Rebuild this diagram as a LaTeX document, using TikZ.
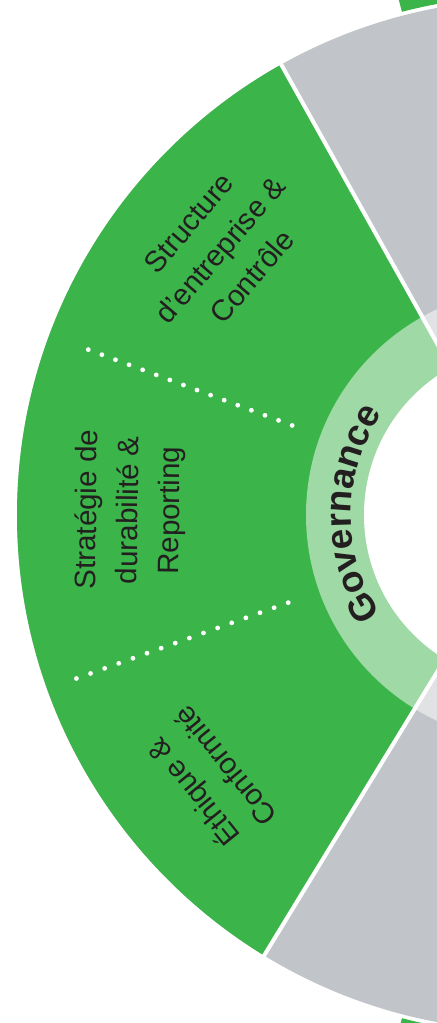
\documentclass[tikz,border=0pt]{standalone}
\usepackage{fontspec}
\setmainfont{Liberation Sans}
\usetikzlibrary{decorations.text}
\definecolor{govgreen}{HTML}{3BB54A}
\definecolor{govlight}{HTML}{9FD9A5}
\definecolor{ringgray}{HTML}{C1C5C9}
\definecolor{ringlight}{HTML}{E1E2E4}
\definecolor{labeltext}{HTML}{231F20}

\begin{document}
\begin{tikzpicture}[x=0.01cm,y=0.01cm,
	pillar/.style={text=labeltext,align=center,font=\fontsize{8.4}{11.8}\selectfont},
	gap/.style={white,line width=1.15pt}]
			\useasboundingbox (0,0) rectangle (437,-1023);
			\coordinate (c) at (533,-515);

			\fill[ringgray] (c) circle[radius=516];
			\fill[ringlight] (c) circle[radius=227];
			\begin{scope}
				\clip (c) -- ([shift={(119.2:900)}]c) -- (-400,400) -- (-400,-1500) -- ([shift={(238.6:900)}]c) -- cycle;
				\fill[govgreen] (c) circle[radius=516];
				\fill[govlight] (c) circle[radius=227];
			\end{scope}
			\fill[white] (c) circle[radius=169];
			\draw[gap] (c) -- ([shift={(119.2:540)}]c);
			\draw[gap] (c) -- ([shift={(238.6:540)}]c);

			% outer bands of the next sectors
			\fill[govgreen] ([shift={(104.6:520)}]c) arc[start angle=104.6,end angle=70,radius=520] -- ([shift={(70:580)}]c) arc[start angle=70,end angle=104.6,radius=580] -- cycle;
			\fill[govgreen] ([shift={(255.4:520)}]c) arc[start angle=255.4,end angle=290,radius=520] -- ([shift={(290:580)}]c) arc[start angle=290,end angle=255.4,radius=580] -- cycle;

			\foreach \r in {257,271.5,...,476}
				\fill[white] ([shift={(159.6:\r)}]c) circle[radius=2.4];
			\foreach \r in {260,275,...,486}
				\fill[white] ([shift={(199.7:\r)}]c) circle[radius=2.4];

			\node[pillar,rotate=49.5] (struct) at ([shift={(139.7:410)}]c) {Structure\\d’entreprise \&\\Contrôle};
			\node[pillar,rotate=89.3] (strat) at ([shift={(179.3:403)}]c) {Stratégie de\\durabilité \&\\Reporting};
			\node[pillar,rotate=129] (ethic) at ([shift={(219.2:420)}]c) {Éthique \&\\Conformité};

			\path[decorate,decoration={text along path,text align=center,text color=labeltext,
				text={|\bfseries\fontsize{10.5}{12}\selectfont|Governance}}]
				([shift={(214.5:182)}]c) arc[start angle=214.5,end angle=144.5,radius=182];
		\end{tikzpicture}
\end{document}
